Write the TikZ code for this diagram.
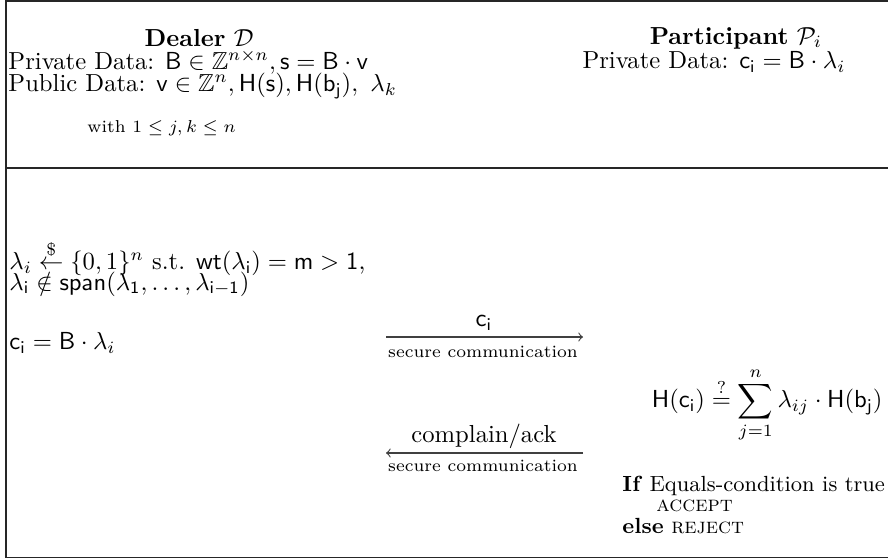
\documentclass[tikz,border=0pt]{standalone}
\usepackage{amsmath,amssymb}
\tikzset{
  frameline/.style={line width=0.55pt, draw=black!85},
  txt/.style={inner sep=0pt, anchor=west},
  ctxt/.style={inner sep=0pt, anchor=center},
  smalltxt/.style={inner sep=0pt, font=\scriptsize},
  dectxt/.style={inner sep=0pt, anchor=west, font=\fontsize{8.9}{11}\selectfont},
  msg/.style={draw=black!75, line width=0.45pt, -to}
}
\begin{document}
\begin{tikzpicture}[x=0.406pt,y=-0.406pt]
\useasboundingbox (0,0) rectangle (888,559);
% frame
\coordinate (tr) at (888,1);
\coordinate (tl) at (6,1);
\coordinate (bl) at (6,557.5);
\coordinate (br) at (888,557.5);
\coordinate (ml) at (6,168);
\coordinate (mr) at (888,168);
\draw[frameline] (tr) -- (tl) -- (bl) -- (br);
\draw[frameline] (ml) -- (mr);

% header: dealer
\node[ctxt] (dealer) at (199,38) {\textbf{Dealer} $\mathcal{D}$};
\node[txt] (dpriv) at (8,62) {Private Data: $\mathsf{B}\in\mathbb{Z}^{n\times n},\mathsf{s}=\mathsf{B}\cdot\mathsf{v}$};
\node[txt] (dpub) at (8,86) {Public Data: $\mathsf{v}\in\mathbb{Z}^{n},\mathsf{H}(\mathsf{s}),\mathsf{H}(\mathsf{b_j}),\ \lambda_k$};
\node[txt, smalltxt, anchor=west] (dwith) at (87,128) {with $1\le j,k\le n$};

% header: participant
\node[ctxt] (part) at (736,38) {\textbf{Participant} $\mathcal{P}_i$};
\node[ctxt] (ppriv) at (714,62) {Private Data: $\mathsf{c_i}=\mathsf{B}\cdot\lambda_i$};

% dealer actions
\node[txt] (l1) at (9,258) {$\lambda_i \stackrel{\$}{\leftarrow} \{0,1\}^n$ s.t. $\mathsf{wt}(\lambda_{\mathsf{i}})=\mathsf{m}>\mathsf{1}$,};
\node[txt] (l2) at (9,284) {$\lambda_{\mathsf{i}}\notin\mathsf{span}(\lambda_{\mathsf{1}},\ldots,\lambda_{\mathsf{i-1}})$};
\node[txt] (ci) at (9,343) {$\mathsf{c_i}=\mathsf{B}\cdot\lambda_i$};

% message 1
\coordinate (a1s) at (386,337);
\coordinate (a1e) at (583,337);
\draw[msg] (a1s) -- (a1e);
\node[ctxt] (m1) at (484,323) {$\mathsf{c_i}$};
\node[ctxt, smalltxt] (s1) at (483,352) {secure communication};

% participant check
\node[inner sep=0pt, anchor=east] (check) at (883,405) {$\mathsf{H}(\mathsf{c_i})\stackrel{?}{=}\displaystyle\sum_{j=1}^{n}\lambda_{ij}\cdot\mathsf{H}(\mathsf{b_j})$};

% message 2
\node[ctxt] (m2) at (484,436) {complain$/$ack};
\coordinate (a2s) at (583,453);
\coordinate (a2e) at (386,453);
\draw[msg] (a2s) -- (a2e);
\node[ctxt, smalltxt] (s2) at (483,466) {secure communication};

% decision
\node[dectxt] (if) at (622,486) {\textbf{If} Equals-condition is true};
\node[dectxt] (acc) at (656,506) {\textsc{accept}};
\node[dectxt] (rej) at (622,526) {\textbf{else} \textsc{reject}};
\end{tikzpicture}
\end{document}
